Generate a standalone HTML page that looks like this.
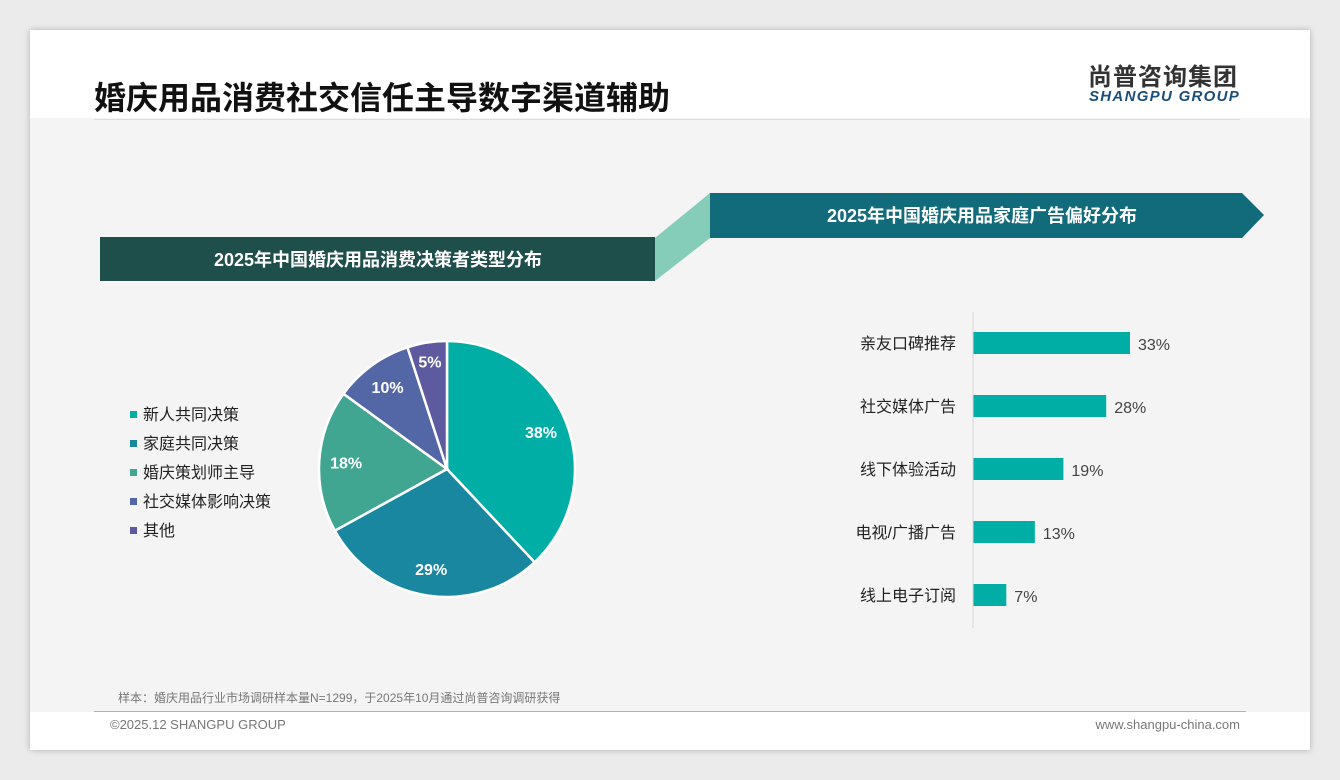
<!DOCTYPE html>
<html><head><meta charset="utf-8"><style>
body{margin:0;width:1340px;height:780px;background:#ebebeb;font-family:"Liberation Sans","Noto Sans CJK SC",sans-serif;position:relative;overflow:hidden}
.card{position:absolute;left:30px;top:30px;width:1280px;height:720px;background:#f4f4f4;box-shadow:0 0 6px rgba(0,0,0,.25)}
.abs{position:absolute}
</style></head><body>
<div class="card">
 <div class="abs" style="left:0;top:0;width:1280px;height:88px;background:#fff"></div>
 <div class="abs" style="left:64px;top:51px;font-size:32px;font-weight:bold;color:#111;line-height:1.1">婚庆用品消费社交信任主导数字渠道辅助</div>
 <div class="abs" style="left:64px;top:89px;width:1146px;height:1px;background:#ddd"></div>
 <div class="abs" style="left:1058px;top:35px;font-size:24px;font-weight:bold;color:#333;letter-spacing:1px;line-height:1.1">尚普咨询集团</div>
 <div class="abs" style="left:1059px;top:58px;font-size:15px;font-weight:bold;font-style:italic;color:#1a4f7a;letter-spacing:1.3px">SHANGPU GROUP</div>
 <div class="abs" style="left:0;top:682px;width:1280px;height:38px;background:#fff"></div>
 <div class="abs" style="left:64px;top:681px;width:1152px;height:1px;background:#9bb7cc"></div>
 <div class="abs" style="left:88px;top:659px;font-size:12px;color:#777">样本：婚庆用品行业市场调研样本量N=1299，于2025年10月通过尚普咨询调研获得</div>
 <div class="abs" style="left:80px;top:687px;font-size:13px;color:#777">©2025.12 SHANGPU GROUP</div>
 <div class="abs" style="right:70px;top:687px;font-size:13px;color:#777">www.shangpu-china.com</div>
</div>
<svg class="abs" style="left:0;top:0" width="1340" height="780">
 <polygon points="655,238 710,193 710,238 655,281" fill="#86cdb9"/>
 <rect x="100" y="237" width="555" height="44" fill="#1e4f4a"/>
 <text x="378" y="266" text-anchor="middle" font-size="18" font-weight="bold" fill="#fff">2025年中国婚庆用品消费决策者类型分布</text>
 <polygon points="710,193 1242,193 1264,215 1242,238 710,238" fill="#116b7a"/>
 <text x="982" y="222" text-anchor="middle" font-size="18" font-weight="bold" fill="#fff">2025年中国婚庆用品家庭广告偏好分布</text>
 <g id="pie"></g><g id="legend"></g><g id="bars"></g>
 <line x1="973" y1="312" x2="973" y2="628" stroke="#d6d6d6"/>
</svg>
<script>
const pieLabels=["新人共同决策","家庭共同决策","婚庆策划师主导","社交媒体影响决策","其他"];
const pieValues=[38,29,18,10,5];
const pieColors=["#00aea6","#1a87a0","#40a691","#5366a6","#5d5a9f"];
const barLabels=["亲友口碑推荐","社交媒体广告","线下体验活动","电视/广播广告","线上电子订阅"];
const barValues=[33,28,19,13,7];
const NS="http://www.w3.org/2000/svg";
function mk(t,a){const e=document.createElementNS(NS,t);for(const k in a)e.setAttribute(k,a[k]);return e;}
const cx=447,cy=469,R=128;
const total=pieValues.reduce((a,b)=>a+b,0);
let ang=0;
const pie=document.getElementById('pie');
pieValues.forEach((v,i)=>{
 const a0=ang,a1=ang+v/total*2*Math.PI;ang=a1;
 const p=a=>[cx+R*Math.sin(a),cy-R*Math.cos(a)];
 const [x0,y0]=p(a0),[x1,y1]=p(a1);
 const s=mk('path',{d:`M${cx},${cy}L${x0},${y0}A${R},${R} 0 ${a1-a0>Math.PI?1:0} 1 ${x1},${y1}Z`,fill:pieColors[i],stroke:'#fff','stroke-width':2.5});
 
 
 pie.appendChild(s);
 const m=(a0+a1)/2,r=R*(v<8?0.85:0.79);
 const t=mk('text',{x:cx+r*Math.sin(m),y:cy-r*Math.cos(m)+6,'text-anchor':'middle','font-size':16,'font-weight':'bold',fill:'#fff'});
 
 
 t.textContent=v+'%';pie.appendChild(t);
});
const lg=document.getElementById('legend');
pieLabels.forEach((l,i)=>{
 const y=414+i*29;
 const r=mk('rect',{x:130,y:y-3,width:7,height:7,fill:pieColors[i]});
 
 
 lg.appendChild(r);
 const t=mk('text',{x:143,y:y+6,'font-size':16,fill:'#222'});
 
 
 t.textContent=l;lg.appendChild(t);
});
const bx=973,scale=157/33,by0=343,step=63;
const bg=document.getElementById('bars');
barValues.forEach((v,i)=>{
 const y=by0+i*step;
 const r=mk('rect',{x:bx,y:y-11,width:v*scale,height:22,fill:'#00aea6'});
 
 
 bg.appendChild(r);
 const c=mk('text',{x:956,y:y+6,'text-anchor':'end','font-size':16,fill:'#222'});
 
 
 c.textContent=barLabels[i];bg.appendChild(c);
 const t=mk('text',{x:bx+v*scale+8,y:y+7,'font-size':16,fill:'#444'});
 
 
 t.textContent=v+'%';bg.appendChild(t);
});
</script>
</body></html>
